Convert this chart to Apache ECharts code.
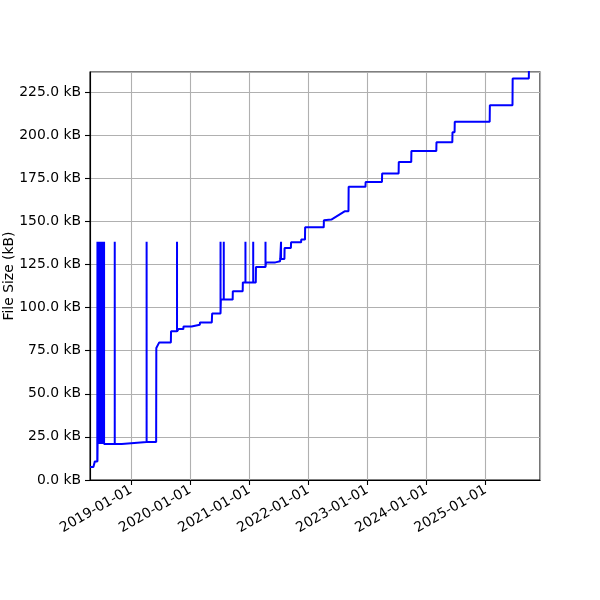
<!DOCTYPE html>
<html>
<head>
<meta charset="utf-8">
<script src="https://cdn.jsdelivr.net/npm/echarts@6/dist/echarts.min.js"></script>
<style>html,body{margin:0;padding:0;background:#fff}#c{width:600px;height:600px}</style>
</head>
<body>
<div id="c"></div>
<script>
// Baseline (step) points of the file size history
const baseDates = [
  '2018-04-22','2018-05-13','2018-05-22','2018-06-06','2018-06-08','2018-11-04','2018-11-05',
  '2019-06-05','2019-06-06','2019-06-14','2019-06-24','2019-09-04','2019-09-05','2019-10-20',
  '2019-10-21','2019-11-20','2019-11-21','2020-01-10','2020-01-11','2020-03-01','2020-03-02',
  '2020-05-14','2020-05-16','2020-07-08','2020-07-09','2020-09-20','2020-09-21','2020-11-21',
  '2020-11-22','2021-02-10','2021-02-11','2021-04-13','2021-04-14','2021-06-11','2021-06-12',
  '2021-07-10','2021-07-11','2021-08-06','2021-08-07','2021-09-15','2021-09-16','2021-11-17',
  '2021-11-18','2021-12-11','2021-12-12','2022-04-06','2022-04-07','2022-05-23','2022-08-13',
  '2022-09-06','2022-09-07','2022-12-20','2022-12-21','2023-04-01','2023-04-02','2023-07-13',
  '2023-07-14','2023-09-29','2023-09-30','2024-03-02','2024-03-03','2024-06-09','2024-06-10',
  '2024-06-23','2024-06-24','2025-01-26','2025-01-27','2025-06-16','2025-06-17','2025-09-25',
  '2025-09-26'
];
const baseSizes = [
  7.6, 7.6, 10.8, 10.8, 20.9, 20.9, 22.0,
  22.0, 76.6, 77.5, 79.8, 79.8, 86.2, 86.2,
  87.5, 87.5, 89.0, 89.0, 90.0, 90.0, 91.4,
  91.4, 96.5, 96.5, 104.6, 104.6, 109.4, 109.4,
  114.6, 114.6, 123.5, 123.5, 126.2, 126.2, 126.8,
  126.8, 128.2, 128.2, 134.6, 134.6, 137.8, 137.8,
  139.4, 139.4, 146.5, 146.5, 150.6, 151.0, 155.8,
  155.8, 170.0, 170.0, 172.8, 172.8, 177.7, 177.7,
  184.4, 184.4, 190.8, 190.8, 195.9, 195.9, 201.6,
  201.6, 207.7, 207.7, 217.3, 217.3, 232.8, 232.8,
  245.0
];
// Short-lived spikes up to the same size
const spikeDates = [
  '2018-06-07','2018-06-12','2018-06-15','2018-06-18','2018-06-21','2018-06-24','2018-06-27',
  '2018-06-30','2018-07-03','2018-07-06','2018-07-09','2018-07-12','2018-07-15','2018-07-18',
  '2018-09-22','2019-04-07','2019-10-12','2020-07-07','2020-07-27','2020-12-08','2021-01-25',
  '2021-04-11','2021-07-16'
];
const spikeBases = [
  10.8, 20.9, 20.9, 20.9, 20.9, 20.9, 20.9,
  20.9, 20.9, 20.9, 20.9, 20.9, 20.9, 20.9,
  20.9, 22.0, 86.2, 96.5, 104.6, 114.6, 114.6,
  123.5, 128.2
];
const spikeTop = 138.2;
const yTicks = [0, 25, 50, 75, 100, 125, 150, 175, 200, 225];

// Merge into a single ordered list of points
const items = [];
baseDates.forEach((d, i) => items.push({d, k: 0, pts: [[d, baseSizes[i]]]}));
spikeDates.forEach((d, i) => items.push({d, k: 1, pts: [[d, spikeBases[i]], [d, spikeTop], [d, spikeBases[i]]]}));
items.sort((a, b) => a.d < b.d ? -1 : a.d > b.d ? 1 : a.k - b.k);
const points = [];
items.forEach(it => it.pts.forEach(p => points.push(p)));

const chart = echarts.init(document.getElementById('c'), null, {renderer: 'canvas'});
const font = 'DejaVu Sans';
const fs = 13.9;
chart.setOption({
  animation: false,
  backgroundColor: '#fff',
  grid: {left: 90, right: 60, top: 72, bottom: 120, show: true, borderColor: '#000', borderWidth: 1.1,
         containLabel: false, outerBoundsMode: 'none'},
  xAxis: {
    type: 'time',
    min: '2018-04-22',
    max: '2025-12-03',
    minInterval: 365 * 24 * 3600 * 1000,
    maxInterval: 366 * 24 * 3600 * 1000,
    axisLine: {show: true, lineStyle: {color: '#000', width: 1.1}},
    axisTick: {show: true, inside: false, length: 5, lineStyle: {color: '#000', width: 1.1}},
    axisLabel: {
      rotate: 30, margin: 9, color: '#000', fontFamily: font, fontSize: fs,
      showMinLabel: false, showMaxLabel: false,
      formatter: v => echarts.time.format(v, '{yyyy}-{MM}-{dd}', false)
    },
    splitLine: {show: true, lineStyle: {color: '#b0b0b0', width: 1.1}}
  },
  yAxis: {
    type: 'value',
    min: 0,
    max: 236.6,
    interval: 25,
    name: 'File Size (kB)',
    nameLocation: 'middle',
    nameGap: 74,
    nameMoveOverlap: false,
    nameTextStyle: {color: '#000', fontFamily: font, fontSize: fs},
    axisLine: {show: true, lineStyle: {color: '#000', width: 1.1}},
    axisTick: {show: true, inside: false, length: 5, lineStyle: {color: '#000', width: 1.1}},
    axisLabel: {
      margin: 9, color: '#000', fontFamily: font, fontSize: fs, showMaxLabel: false,
      formatter: v => yTicks.indexOf(v) >= 0 ? v.toFixed(1) + ' kB' : ''
    },
    splitLine: {show: true, lineStyle: {color: '#b0b0b0', width: 1.1}}
  },
  series: [{
    type: 'line',
    data: points,
    showSymbol: false,
    symbol: 'none',
    clip: true,
    lineStyle: {color: '#0000ff', width: 2},
    itemStyle: {color: '#0000ff'}
  }]
});
</script>
</body>
</html>
